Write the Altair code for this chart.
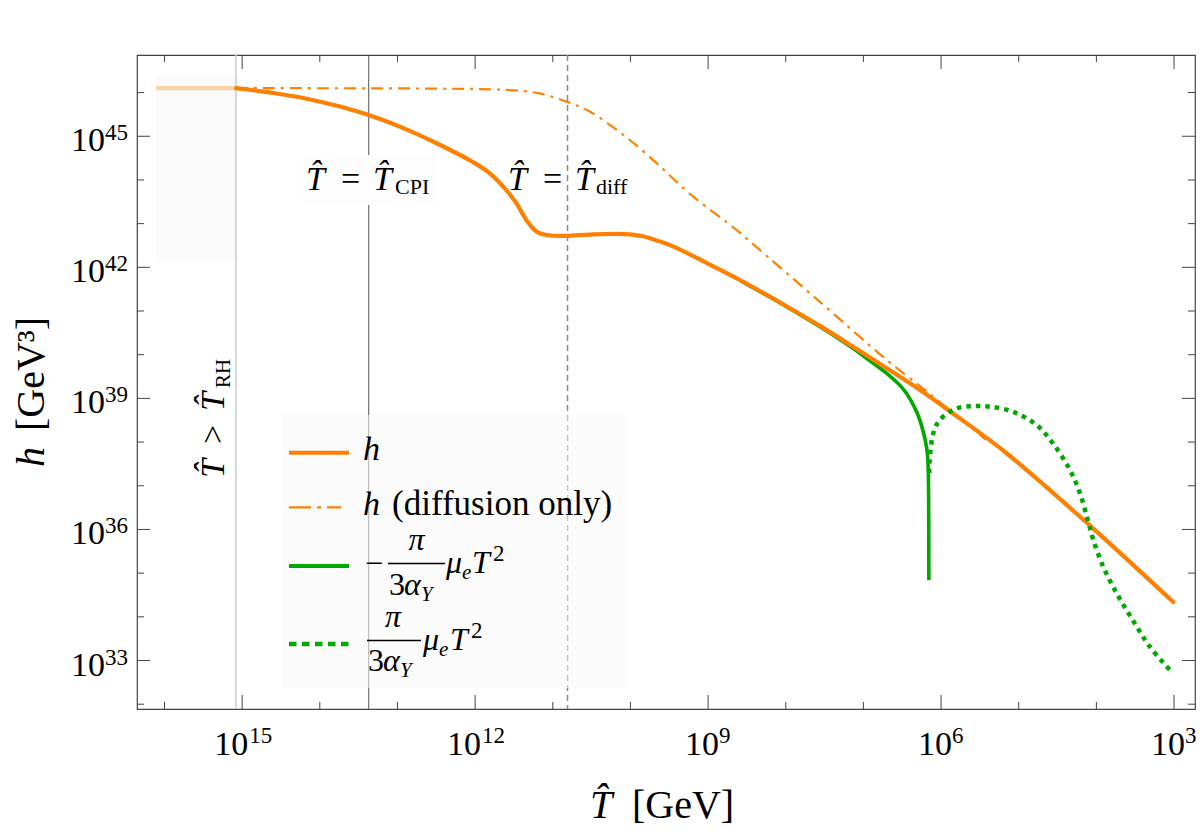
import altair as alt
import pandas as pd

# ---------------- data (log10 values) ----------------
# h (full), log10 T and log10 h
h_logT = [15.08, 14.60, 14.17, 13.74, 13.38, 12.97, 12.45, 12.03, 11.81, 11.60, 11.47, 11.34,
          11.21, 11.08, 10.82, 10.52, 10.09, 9.84, 9.62, 9.45, 9.02, 8.59, 7.99, 7.56, 7.13, 6.70,
          6.27, 5.89, 5.16, 4.09, 3.01]
h_logh = [46.10, 45.99, 45.86, 45.68, 45.49, 45.22, 44.80, 44.41, 44.15, 43.77, 43.47, 43.08,
          42.82, 42.74, 42.72, 42.75, 42.76, 42.71, 42.59, 42.48, 42.10, 41.71, 41.11, 40.66, 40.18,
          39.69, 39.19, 38.71, 37.75, 36.10, 34.34]
# h for T > T_RH (faded)
fade_logT = [16.11, 15.08]
fade_logh = [46.10, 46.10]
# h (diffusion only)
dd_logT = [15.08, 12.50, 11.60, 11.17, 10.82, 10.52, 10.09, 9.66, 9.24, 8.63, 8.42, 7.56, 6.70,
           6.27, 6.02, 5.80, 5.42]
dd_logh = [46.10, 46.09, 46.06, 45.98, 45.79, 45.56, 45.03, 44.38, 43.69, 42.85, 42.53, 41.21,
           39.88, 39.28, 38.92, 38.60, 38.05]
# -pi/(3 alpha_Y) mu_e T^2
gs_logT = [8.59, 7.99, 7.56, 7.13, 7.00, 6.70, 6.50, 6.40, 6.30, 6.25, 6.20, 6.175, 6.165, 6.16,
           6.158, 6.157]
gs_logh = [41.70, 41.10, 40.64, 40.14, 39.97, 39.57, 39.24, 38.99, 38.63, 38.37, 38.01, 37.70,
           37.35, 36.70, 35.70, 34.84]
# +pi/(3 alpha_Y) mu_e T^2
gd_logT = [6.152, 6.146, 6.10, 6.02, 5.80, 5.59, 5.37, 5.07, 4.77, 4.56, 4.34, 4.21, 4.11, 4.04,
           3.91, 3.74, 3.53, 3.31, 3.03]
gd_logh = [37.29, 37.59, 38.20, 38.50, 38.77, 38.82, 38.81, 38.69, 38.39, 37.97, 37.36, 36.82,
           36.21, 35.76, 35.14, 34.54, 33.92, 33.31, 32.74]

# marker temperatures (log10 GeV)
logT_RH = 15.08
logT_CPI = 13.37
logT_diff = 10.81
# shaded T > T_RH box (log10)
box_logT = [16.11, 15.08]
box_logh = [42.12, 46.40]

# axis ticks (log10)
x_domain = [2.73, 16.354]
y_domain = [31.89, 46.86]
x_major = [15, 12, 9, 6, 3]
x_minor = [16, 14, 13, 11, 10, 8, 7, 5, 4]
y_major = [45, 42, 39, 36, 33]
y_minor = [46, 44, 43, 41, 40, 38, 37, 35, 34, 32]

# ---------------- styling ----------------
SERIF = "Liberation Serif"
ORANGE = "#FF8000"
FADED = "#FBD3A6"
GREEN = "#00A800"
FRAME = "#444444"
OX, OY = 137, 55
W, H = 1058, 654
HAT = "T\u0302"

xs = alt.Scale(type="log", domain=[10 ** x_domain[0], 10 ** x_domain[1]], reverse=True, nice=False)
ys = alt.Scale(type="log", domain=[10 ** y_domain[0], 10 ** y_domain[1]], nice=False)


def X(f):
    return alt.X(f"{f}:Q", scale=xs, axis=None)


def Y(f):
    return alt.Y(f"{f}:Q", scale=ys, axis=None)


def series(lt, lh):
    return pd.DataFrame({"T": [10 ** v for v in lt], "h": [10 ** v for v in lh], "i": range(len(lt))})


def curve(df, color, width, dash=None, cap="butt"):
    kw = dict(color=color, strokeWidth=width, interpolate="catmull-rom", clip=True, strokeCap=cap)
    if dash:
        kw["strokeDash"] = dash
    return alt.Chart(df).mark_line(**kw).encode(x=X("T"), y=Y("h"), order="i:Q")


one = pd.DataFrame({"k": [0]})


def txt(s, x, y, size, italic=False, align="left", angle=0, baseline="alphabetic"):
    kw = dict(text=s, font=SERIF, fontSize=size, align=align, baseline=baseline, color="black")
    if italic:
        kw["fontStyle"] = "italic"
    if angle:
        kw["angle"] = angle
    return alt.Chart(one).mark_text(**kw).encode(x=alt.value(x - OX), y=alt.value(y - OY))


def prect(x1, y1, x2, y2, fill, opacity=1.0):
    return alt.Chart(one).mark_rect(color=fill, opacity=opacity).encode(
        x=alt.value(x1 - OX), x2=alt.value(x2 - OX), y=alt.value(y1 - OY), y2=alt.value(y2 - OY))


def pline(x1, y1, x2, y2, color, width, dash=None):
    kw = dict(color=color, strokeWidth=width)
    if dash:
        kw["strokeDash"] = dash
    return alt.Chart(one).mark_rule(**kw).encode(
        x=alt.value(x1 - OX), x2=alt.value(x2 - OX), y=alt.value(y1 - OY), y2=alt.value(y2 - OY))


layers = []

# shaded T > T_RH region
shade = pd.DataFrame({"T1": [10 ** box_logT[0]], "T2": [10 ** box_logT[1]],
                      "h1": [10 ** box_logh[0]], "h2": [10 ** box_logh[1]]})
layers.append(alt.Chart(shade).mark_rect(color="#FAFAFA").encode(
    x=X("T1"), x2=alt.X2("T2"), y=Y("h1"), y2=alt.Y2("h2")))


# vertical marker lines
def vline(lt, color, width, dash=None):
    kw = dict(color=color, strokeWidth=width)
    if dash:
        kw["strokeDash"] = dash
    return alt.Chart(pd.DataFrame({"T": [10 ** lt]})).mark_rule(**kw).encode(
        x=X("T"), y=alt.value(0), y2=alt.value(H))


layers.append(vline(logT_RH, "#CFCFCF", 1.6))
layers.append(vline(logT_CPI, "#555555", 1.0))
layers.append(vline(logT_diff, "#8A8A8A", 1.5, [6, 4]))

# legend background and CPI label background
layers.append(prect(282, 415, 627, 688, "#F7F7F7", 0.55))
layers.append(prect(303, 155, 437, 205, "#FDFDFD", 1.0))

# curves
layers.append(curve(series(fade_logT, fade_logh), FADED, 4.2))
layers.append(curve(series(gs_logT, gs_logh), GREEN, 3.6))
layers.append(curve(series(dd_logT, dd_logh), ORANGE, 2.2, [12, 6, 3, 6]))
layers.append(curve(series(h_logT, h_logh), ORANGE, 4.2, cap="round"))
layers.append(curve(series(gd_logT, gd_logh), GREEN, 4.5, [4.5, 5]))


# ticks (inside the frame, all four sides)
def xticks(vals, length):
    d = pd.DataFrame({"T": [10.0 ** v for v in vals]})
    b = alt.Chart(d).mark_rule(color=FRAME, strokeWidth=1).encode(
        x=X("T"), y=alt.value(H), y2=alt.value(H - length))
    t = alt.Chart(d).mark_rule(color=FRAME, strokeWidth=1).encode(
        x=X("T"), y=alt.value(0), y2=alt.value(length))
    return [b, t]


def yticks(vals, length):
    d = pd.DataFrame({"h": [10.0 ** v for v in vals]})
    l = alt.Chart(d).mark_rule(color=FRAME, strokeWidth=1).encode(
        y=Y("h"), x=alt.value(0), x2=alt.value(length))
    r = alt.Chart(d).mark_rule(color=FRAME, strokeWidth=1).encode(
        y=Y("h"), x=alt.value(W), x2=alt.value(W - length))
    return [l, r]


layers += xticks(x_major, 14) + xticks(x_minor, 7) + yticks(y_major, 13) + yticks(y_minor, 7)

# tick labels 10^n
xl = pd.DataFrame({"T": [10.0 ** v for v in x_major], "e": [str(v) for v in x_major],
                   "two": [len(str(v)) == 2 for v in x_major]})
for two, dx10, dxe in [(True, -11, 7), (False, -6, 11)]:
    sub = xl[xl["two"] == two]
    layers.append(alt.Chart(sub).mark_text(text="10", font=SERIF, fontSize=34, align="center",
                                           baseline="alphabetic", dx=dx10, color="black").encode(
        x=X("T"), y=alt.value(755 - OY)))
    layers.append(alt.Chart(sub).mark_text(font=SERIF, fontSize=23, align="left",
                                           baseline="alphabetic", dx=dxe, color="black").encode(
        x=X("T"), y=alt.value(743 - OY), text="e:N"))

yl = pd.DataFrame({"h": [10.0 ** v for v in y_major], "e": [str(v) for v in y_major]})
layers.append(alt.Chart(yl).mark_text(text="10", font=SERIF, fontSize=34, align="right",
                                      baseline="alphabetic", dy=15, color="black").encode(
    y=Y("h"), x=alt.value(105 - OX)))
layers.append(alt.Chart(yl).mark_text(font=SERIF, fontSize=23, align="left",
                                      baseline="alphabetic", dy=4, color="black").encode(
    y=Y("h"), x=alt.value(105 - OX), text="e:N"))

# axis titles
layers.append(txt(HAT, 590, 818, 40, italic=True))
layers.append(txt("[GeV]", 632, 818, 40))
layers.append(txt("h", 44, 467, 40, italic=True, angle=270))
layers.append(txt("[GeV\u00b3]", 44, 431, 40, angle=270))

# in-plot labels
for x0 in (306, 508):
    layers.append(txt(HAT, x0, 190, 34, italic=True))
    layers.append(txt("=", x0 + 35, 190, 34))
    layers.append(txt(HAT, x0 + 67, 190, 34, italic=True))
layers.append(txt("CPI", 395, 194, 22))
layers.append(txt("diff", 596, 194, 22))

# rotated T > T_RH label
layers.append(txt(HAT, 224, 478, 34, italic=True, angle=270))
layers.append(txt(">", 224, 444, 34, angle=270))
layers.append(txt(HAT, 224, 411, 34, italic=True, angle=270))
layers.append(txt("RH", 230, 388, 21, angle=270))

# legend
layers.append(pline(289, 452.7, 349, 452.7, ORANGE, 4))
layers.append(txt("h", 363, 460, 34, italic=True))
layers.append(pline(289, 507.3, 341, 507.3, ORANGE, 2.2, [22, 6, 4, 6]))
layers.append(txt("h", 363, 515, 34, italic=True))
layers.append(txt("(diffusion only)", 392, 515, 35))
layers.append(pline(289, 566, 349, 566, GREEN, 4))
layers.append(pline(289, 644, 349, 644, GREEN, 4.5, [7.5, 5.5]))

# -pi/(3 a_Y) mu_e T^2
layers.append(txt("\u2212", 365, 574, 32))
layers.append(pline(388, 563.5, 445, 563.5, "black", 1.3))
layers.append(txt("\u03c0", 416.5, 550, 32, italic=True, align="center"))
layers.append(txt("3", 389, 595, 32))
layers.append(txt("\u03b1", 404, 595, 32, italic=True))
layers.append(txt("Y", 421, 601, 21, italic=True))
layers.append(txt("\u03bc", 446, 573, 32, italic=True))
layers.append(txt("e", 462, 579, 21, italic=True))
layers.append(txt("T", 472, 573, 32, italic=True))
layers.append(txt("2", 493, 561, 23))

# +pi/(3 a_Y) mu_e T^2
layers.append(pline(367, 640.5, 421, 640.5, "black", 1.3))
layers.append(txt("\u03c0", 393, 627, 32, italic=True, align="center"))
layers.append(txt("3", 368, 671, 32))
layers.append(txt("\u03b1", 383, 671, 32, italic=True))
layers.append(txt("Y", 400, 677, 21, italic=True))
layers.append(txt("\u03bc", 423, 650, 32, italic=True))
layers.append(txt("e", 439, 656, 21, italic=True))
layers.append(txt("T", 450, 650, 32, italic=True))
layers.append(txt("2", 471, 638, 23))

chart = alt.layer(*layers).properties(
    width=W, height=H,
    padding={"left": OX, "top": OY, "right": 1200 - OX - W, "bottom": 838 - OY - H},
    autosize=alt.AutoSizeParams(type="none"),
    background="white",
).configure_view(stroke=FRAME, strokeWidth=1.2)

chart.save("out.html", embed_options={"renderer": "svg", "actions": False})
